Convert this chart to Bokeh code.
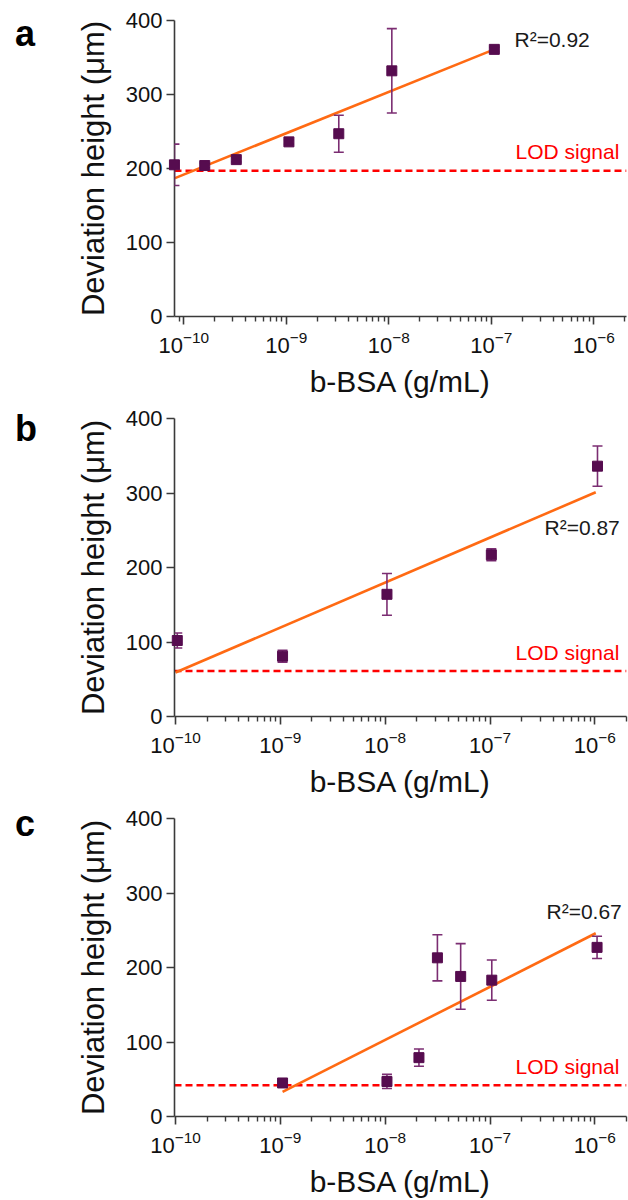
from bokeh.plotting import figure
from bokeh.models import (ColumnDataSource, Whisker, TeeHead, Span, Label,
                          FixedTicker, LogTickFormatter, Range1d, Div)
from bokeh.layouts import column, row
from bokeh.embed import file_html
from bokeh.resources import INLINE

# ---------------- data ----------------
# Panel a
a_conc = [8.1e-11, 1.6e-10, 3.25e-10, 1.06e-9, 3.25e-9, 1.07e-8, 1.07e-7]
a_mean = [205, 204, 212, 236, 247, 332, 361]
a_err = [28, 3, 3, 3, 25, 57, 3]
a_fit_x = [8.2e-11, 1.07e-7]
a_fit_y = [187, 361]
a_lod = 197
a_r2 = "R²=0.92"

# Panel b
b_conc = [1.04e-10, 1.05e-9, 1.04e-8, 1.03e-7, 1.06e-6]
b_mean = [102, 81, 164, 217, 336]
b_err = [10, 8, 28, 8, 27]
b_fit_x = [1.0e-10, 1.02e-6]
b_fit_y = [59, 301]
b_lod = 61
b_r2 = "R²=0.87"

# Panel c
c_conc = [1.05e-9, 1.04e-8, 2.1e-8, 3.15e-8, 5.25e-8, 1.04e-7, 1.05e-6]
c_mean = [45, 47, 79, 213, 188, 183, 227]
c_err = [3, 9.5, 11.6, 31, 44, 27, 15]
c_fit_x = [1.05e-9, 1.02e-6]
c_fit_y = [33, 246]
c_lod = 42
c_r2 = "R²=0.67"

x_ticks = [1e-10, 1e-9, 1e-8, 1e-7, 1e-6]
y_ticks = [0, 100, 200, 300, 400]
lod_text = "LOD signal"
x_title = "b-BSA (g/mL)"
y_title = "Deviation height (μm)"

FONT = "Liberation Sans"
MARKER = "#560c4f"
ERRC = "#7b2d72"
FITC = "#ff6a13"
LODC = "#ff0000"
AXC = "#3a3a3a"

LEFT_W = 60

minor = [k * 10.0 ** e for e in range(-11, -5) for k in range(2, 10)]


def panel(letter, conc, mean, err, fit_x, fit_y, lod, r2, xr, height,
          top, bottom, letter_pad, r2_pos, lod_pos):
    p = figure(width=628 - LEFT_W, height=height, x_axis_type="log",
               x_range=Range1d(*xr), y_range=Range1d(0, 400),
               output_backend="svg", toolbar_location=None,
               min_border_left=174 - LEFT_W, min_border_right=2,
               min_border_top=top, min_border_bottom=bottom,
               margin=(0, 0, 0, 0))
    p.outline_line_color = None
    p.grid.visible = False
    p.background_fill_color = "white"
    p.border_fill_color = "white"

    for ax in (p.xaxis[0], p.yaxis[0]):
        ax.axis_line_color = AXC
        ax.axis_line_width = 1.6
        ax.major_tick_line_color = AXC
        ax.major_tick_line_width = 1.6
        ax.minor_tick_line_color = AXC
        ax.minor_tick_line_width = 1.4
        ax.major_tick_in = 0
        ax.minor_tick_in = 0
        ax.major_tick_out = 8
        ax.minor_tick_out = 5
        ax.major_label_text_font = FONT
        ax.major_label_text_font_size = "22px"
        ax.major_label_text_color = "#111111"
        ax.axis_label_text_font = FONT
        ax.axis_label_text_font_style = "normal"
        ax.axis_label_text_color = "#111111"

    xa = p.xaxis[0]
    xa.ticker = FixedTicker(ticks=x_ticks, minor_ticks=minor)
    xa.formatter = LogTickFormatter()
    xa.axis_label = x_title
    xa.axis_label_text_font_size = "30px"
    xa.major_label_standoff = 6
    xa.axis_label_standoff = 9

    ya = p.yaxis[0]
    ya.ticker = FixedTicker(ticks=y_ticks)
    ya.minor_tick_line_color = None
    ya.axis_label = y_title
    ya.axis_label_text_font_size = "31px"
    ya.major_label_standoff = 4
    ya.axis_label_standoff = 12

    p.add_layout(Span(location=lod, dimension="width", line_color=LODC,
                      line_width=2.6, line_dash="7 4", level="underlay"))
    p.line(fit_x, fit_y, line_color=FITC, line_width=2.6)
    src = ColumnDataSource(dict(
        x=conc, y=mean,
        upper=[m + e for m, e in zip(mean, err)],
        lower=[m - e for m, e in zip(mean, err)]))
    w = Whisker(base="x", upper="upper", lower="lower", source=src,
                line_color=ERRC, line_width=1.6, level="annotation",
                upper_head=TeeHead(size=10, line_color=ERRC, line_width=1.6),
                lower_head=TeeHead(size=10, line_color=ERRC, line_width=1.6))
    p.add_layout(w)
    p.scatter("x", "y", source=src, marker="square", size=10,
              fill_color=MARKER, line_color=MARKER, level="overlay")

    p.add_layout(Label(x=r2_pos[0], y=r2_pos[1], x_units="screen",
                       y_units="screen", text=r2, text_font=FONT,
                       text_font_size="21px", text_color="#1a1a1a",
                       text_baseline="alphabetic"))
    p.add_layout(Label(x=lod_pos[0], y=lod_pos[1], x_units="screen",
                       y_units="screen", text=lod_text, text_font=FONT,
                       text_font_size="21px", text_color=LODC,
                       text_baseline="alphabetic"))

    d = Div(text=('<div style="font-family:\'Liberation Sans\',Arial,sans-serif;'
                  'font-weight:bold;font-size:36px;line-height:36px;'
                  'color:#000;padding-left:15px;padding-top:%dpx;">%s</div>'
                  % (letter_pad, letter)),
            width=LEFT_W, height=height, margin=(0, 0, 0, 0))
    return row(d, p, spacing=0, margin=(0, 0, 0, 0))


pa = panel("a", a_conc, a_mean, a_err, a_fit_x, a_fit_y, a_lod, a_r2,
           (10 ** -10.091, 10 ** -5.681), 400, 20, 81,
           16, (340, 277), (341, 165))
pb = panel("b", b_conc, b_mean, b_err, b_fit_x, b_fit_y, b_lod, b_r2,
           (10 ** -10.0095, 10 ** -5.698), 400, 18, 82,
           11, (370, 189), (341, 64))
pc = panel("c", c_conc, c_mean, c_err, c_fit_x, c_fit_y, c_lod, c_r2,
           (10 ** -10.0095, 10 ** -5.698), 400, 18, 82,
           6, (372, 205), (341, 50))

layout = column(pa, pb, pc, spacing=0, margin=(0, 0, 0, 0))
open("out.html", "w").write(file_html(layout, INLINE))
